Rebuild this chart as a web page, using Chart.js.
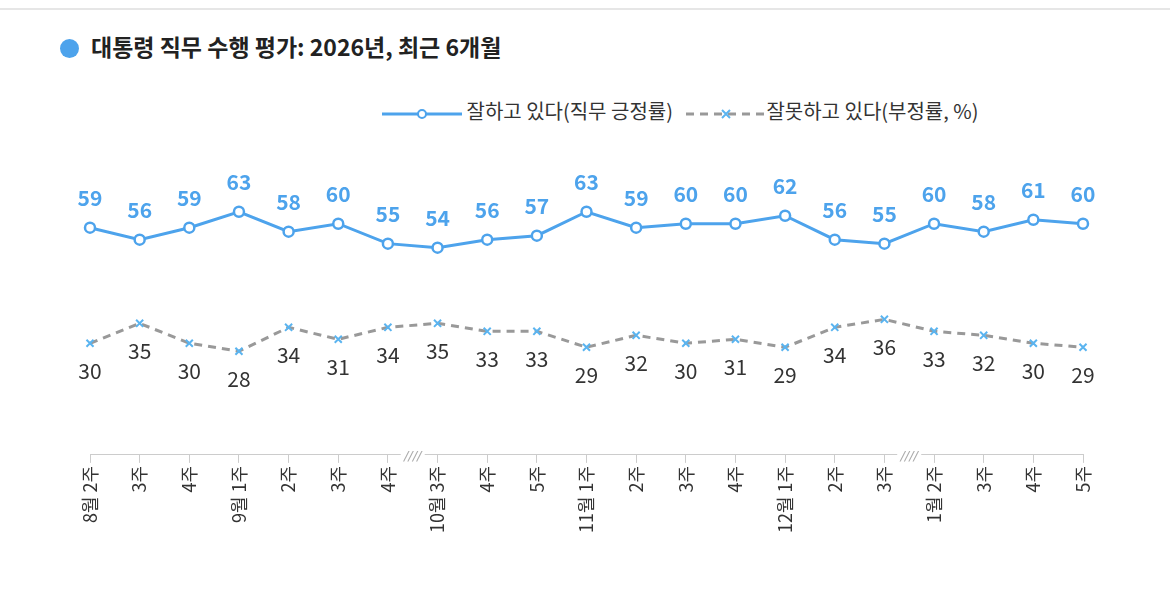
<!DOCTYPE html>
<html><head><meta charset="utf-8">
<script src="https://cdn.jsdelivr.net/npm/chart.js@4.4.1/dist/chart.umd.min.js"></script>
<style>
body{margin:0;background:#fff;font-family:"Noto Sans CJK KR",sans-serif;}
#top{position:absolute;left:0;top:8px;width:1170px;border-top:2px solid #e6e6e6;}
#title{position:absolute;left:60px;top:29px;font-size:23px;font-weight:bold;color:#222;}
#title span{display:inline-block;width:19px;height:19px;border-radius:50%;background:#4da3ec;margin-right:12px;vertical-align:-2px;}
#legend{position:absolute;left:382px;top:96px;font-size:20px;color:#333;white-space:nowrap;}
#legend svg{vertical-align:middle;}
#wrap{position:absolute;left:0;top:0;width:1170px;height:616px;}
</style></head><body>
<div id="top"></div>
<div id="title"><span></span>대통령 직무 수행 평가: 2026년, 최근 6개월</div>
<div id="legend"><svg width="80" height="14"><line x1="0" y1="7" x2="80" y2="7" stroke="#4da3ec" stroke-width="3"/><circle cx="40" cy="7" r="4" fill="#fff" stroke="#4da3ec" stroke-width="2"/></svg> 잘하고 있다(직무 긍정률) &nbsp;&nbsp;<svg width="80" height="14"><line x1="0" y1="7" x2="80" y2="7" stroke="#999" stroke-width="3" stroke-dasharray="8,6"/><path d="M36 3L44 11M44 3L36 11" stroke="#5ab4f0" stroke-width="2"/></svg>잘못하고 있다(부정률, %)</div>
<div id="wrap"><canvas id="c"></canvas></div>
<script>
const labels = ["8월 2주","3주","4주","9월 1주","2주","3주","4주","10월 3주","4주","5주","11월 1주","2주","3주","4주","12월 1주","2주","3주","1월 2주","3주","4주","5주"];
const positive = [59,56,59,63,58,60,55,54,56,57,63,59,60,60,62,56,55,60,58,61,60];
const negative = [30,35,30,28,34,31,34,35,33,33,29,32,30,31,29,34,36,33,32,30,29];
const breaks = [6.5, 16.5];

const valueLabels = {
  id: "valueLabels",
  afterDatasetsDraw(chart) {
    const ctx = chart.ctx;
    ctx.save();
    ctx.textAlign = "center";
    chart.getDatasetMeta(0).data.forEach((p, i) => {
      ctx.font = "bold 21px 'Noto Sans CJK KR'";
      ctx.fillStyle = "#4da3ec";
      ctx.fillText(positive[i], p.x, p.y - 22);
    });
    chart.getDatasetMeta(1).data.forEach((p, i) => {
      ctx.font = "21px 'Noto Sans CJK KR'";
      ctx.fillStyle = "#333";
      ctx.fillText(negative[i], p.x, p.y + 36);
    });
    // axis break marks
    const x = chart.scales.x, y = chart.scales.y.bottom;
    ctx.font = "italic 13px 'DejaVu Sans'";
    breaks.forEach(b => {
      ctx.fillStyle = "#fff";
      ctx.fillRect(x.getPixelForValue(b) - 12, y - 3, 24, 6);
      ctx.fillStyle = "#aaa";
      ctx.fillText("////", x.getPixelForValue(b), y + 5);
    });
    ctx.restore();
  }
};

new Chart(document.getElementById("c"), {
  type: "line",
  data: {
    labels,
    datasets: [{
      data: positive,
      borderColor: "#4da3ec",
      borderWidth: 3,
      pointRadius: 5,
      pointBackgroundColor: "#fff",
      pointBorderColor: "#4da3ec",
      pointBorderWidth: 2.5,
      tension: 0
    }, {
      data: negative,
      borderColor: "#999",
      borderWidth: 3,
      borderDash: [8, 6],
      pointStyle: "crossRot",
      pointRadius: 5,
      pointBorderColor: "#5ab4f0",
      pointBorderWidth: 2,
      tension: 0
    }]
  },
  options: {
    responsive: true,
    maintainAspectRatio: false,
    animation: false,
    layout: { padding: { left: 90, right: 87, top: 144, bottom: 80 } },
    plugins: { legend: { display: false }, tooltip: { enabled: false } },
    scales: {
      x: {
        offset: false,
        border: { color: "#ccc" },
        grid: { drawOnChartArea: false, color: "#ccc", tickLength: 8 },
        ticks: { minRotation: 90, maxRotation: 90, color: "#333", font: { size: 18, family: "Noto Sans CJK KR" } }
      },
      y: { display: false, min: 2, max: 80 }
    }
  },
  plugins: [valueLabels]
});
</script>
</body></html>
